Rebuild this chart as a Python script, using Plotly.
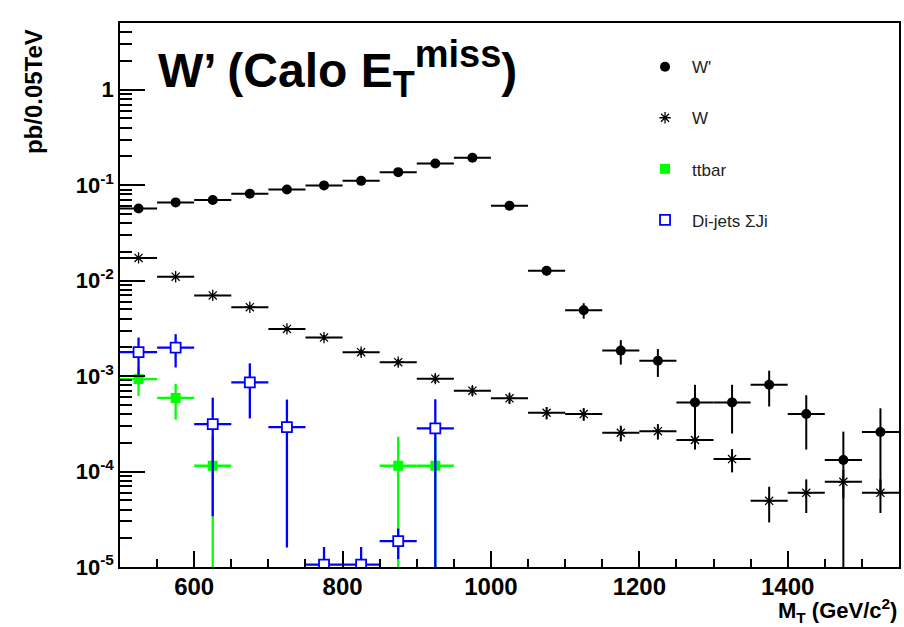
import plotly.graph_objects as go

# Transverse-mass bins (GeV/c^2), 50 GeV wide
bin_centers = [525, 575, 625, 675, 725, 775, 825, 875, 925, 975, 1025,
               1075, 1125, 1175, 1225, 1275, 1325, 1375, 1425, 1475, 1525]
half_width = [25] * len(bin_centers)

# W' signal
wprime = [0.057, 0.066, 0.070, 0.0815, 0.090, 0.0995, 0.111, 0.137, 0.169, 0.194,
          0.061, 0.0127, 0.0049, 0.00185, 0.00145, 0.00053, 0.00053, 0.00081,
          0.0004, 0.000132, 0.00026]
wprime_err = [0.0029, 0.0031, 0.0032, 0.0034, 0.0036, 0.0038, 0.0040, 0.0045,
              0.0050, 0.0053, 0.0030, 0.0014, 0.0009, 0.00053, 0.00047, 0.00028,
              0.00028, 0.00033, 0.00023, 0.00013, 0.0002]

# W background
w_bkg = [0.0173, 0.011, 0.0070, 0.00527, 0.00312, 0.00253, 0.00178, 0.0014,
         0.00094, 0.000703, 0.000585, 0.000413, 0.0004, 0.000255, 0.000265,
         0.000214, 0.000135, 0.0000493, 0.0000598, 0.000078, 0.0000598]
w_bkg_err = [0.00039, 0.00031, 0.00025, 0.00022, 0.00017, 0.00015, 0.00013,
             0.00011, 0.000092, 0.000079, 0.000073, 0.000061, 0.00006, 0.000048,
             0.000049, 0.000044, 0.000037, 0.00002, 0.000023, 0.000026, 0.000023]

# ttbar background (empty bins left out)
ttbar = [0.00093, 0.00059, 0.000115, None, None, None, None, 0.000115, 0.000115] + [None] * 12
ttbar_err = [0.00031, 0.00024, 0.000116, None, None, None, None, 0.000116, 0.000116] + [None] * 12

# Di-jet background
dijets = [0.00178, 0.00199, 0.000314, 0.00086, 0.000292, 0.0000106, 0.0000106,
          0.0000187, 0.000283] + [None] * 12
dijets_err = [0.00075, 0.00076, 0.00028, 0.0005, 0.000276, 0.0000056, 0.0000056,
              0.0000066, 0.00029] + [None] * 12

y_tick_vals = [1e-5, 1e-4, 1e-3, 1e-2, 1e-1, 1]
y_tick_text = ["10<sup>-5</sup>", "10<sup>-4</sup>", "10<sup>-3</sup>",
               "10<sup>-2</sup>", "10<sup>-1</sup>", "1"]
y_minor_vals = [m * 10.0 ** e for e in range(-5, 0) for m in range(2, 10)] + [2, 3, 4]

FONT = "Liberation Sans, Arial, Helvetica, sans-serif"


def series(name, y, yerr, color, marker, bar_width):
    return go.Scatter(
        x=bin_centers, y=y, name=name, mode="markers",
        legendgroup=name,
        marker=marker,
        error_x=dict(type="data", array=half_width, color=color,
                     thickness=bar_width, width=0),
        error_y=dict(type="data", array=yerr, color=color,
                     thickness=bar_width, width=0),
        hoverinfo="x+y+name",
    )


fig = go.Figure()
fig.add_trace(series("W'", wprime, wprime_err, "black",
                     dict(symbol="circle", size=10, color="black"), 2))
fig.add_trace(series("W", w_bkg, w_bkg_err, "black",
                     dict(symbol="asterisk-open", size=9.5, color="black",
                          line=dict(color="black", width=1.3)), 2))
fig.add_trace(series("ttbar", ttbar, ttbar_err, "#00ff00",
                     dict(symbol="square", size=10, color="#00ff00"), 2.3))
fig.add_trace(series("Di-jets \u03a3Ji", dijets, dijets_err, "#0000ff",
                     dict(symbol="square", size=10, color="white",
                          line=dict(color="#0000ff", width=1.8)), 2.3))

title_text = ("W\u2019 (Calo E<sub><span style=\"font-size:36px\">T</span></sub>"
              "<sup><span style=\"font-size:38px\">miss</span></sup>)")

fig.update_layout(
    width=904, height=627,
    margin=dict(l=120, r=3, t=23, b=60),
    paper_bgcolor="white", plot_bgcolor="white",
    font=dict(family=FONT, color="black"),
    showlegend=True,
    legend=dict(
        x=0.665, y=0.952, xanchor="left", yanchor="top",
        font=dict(family=FONT, size=17, color="#222222"),
        bgcolor="rgba(0,0,0,0)", tracegroupgap=26, itemwidth=44,
    ),
    xaxis=dict(
        range=[500, 1550], showgrid=False, zeroline=False,
        showline=True, linecolor="black", linewidth=1.5, mirror=True,
        ticks="inside", ticklen=16, tickwidth=1.5, tickcolor="black",
        tick0=0, dtick=200, ticklabelstandoff=-3,
        tickfont=dict(family=FONT, size=24, weight="bold"),
        minor=dict(ticks="inside", ticklen=8, tickwidth=1.5, tickcolor="black",
                   dtick=50, tick0=0, showgrid=False),
    ),
    yaxis=dict(
        type="log", range=[-5, 0.699], showgrid=False, zeroline=False,
        showline=True, linecolor="black", linewidth=1.5, mirror=True,
        ticks="inside", ticklen=25, tickwidth=1.5, tickcolor="black",
        tickmode="array", tickvals=y_tick_vals, ticktext=y_tick_text,
        tickfont=dict(family=FONT, size=22, weight="bold"),
        minor=dict(ticks="inside", ticklen=12, tickwidth=1.5, tickcolor="black",
                   tickmode="array", tickvals=y_minor_vals, showgrid=False),
    ),
    annotations=[
        dict(text=title_text,
             xref="paper", yref="paper", x=0.046, y=0.915,
             xanchor="left", yanchor="middle", showarrow=False,
             font=dict(family=FONT, size=48, weight="bold", color="black")),
        dict(text="pb/0.05TeV", textangle=-90,
             xref="paper", yref="paper", x=-0.111, y=0.874,
             xanchor="center", yanchor="middle", showarrow=False,
             font=dict(family=FONT, size=24, weight="bold", color="black")),
        dict(text="M<sub>T</sub> (GeV/c<sup>2</sup>)",
             xref="paper", yref="paper", x=1.0, y=-0.0795,
             xanchor="right", yanchor="middle", showarrow=False,
             font=dict(family=FONT, size=22, weight="bold", color="black")),
    ],
)

fig.write_html("out.html")
